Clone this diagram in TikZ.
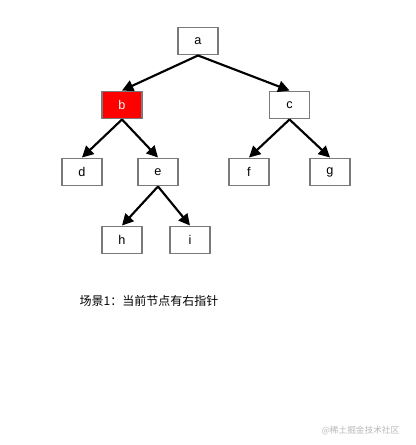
\documentclass[tikz,border=0pt]{standalone}
\usepackage{fontspec}
\setmainfont{Liberation Sans}
\newfontfamily\cjk{Noto Sans CJK SC}
\usetikzlibrary{arrows.meta}
\definecolor{boxgrey}{HTML}{7A7A7A}
\definecolor{markred}{HTML}{FF0000}
\definecolor{wmgrey}{HTML}{B8B8B8}

\begin{document}
\begin{tikzpicture}[x=0.75pt, y=-0.75pt,
    font=\fontsize{9.5}{11}\selectfont,
    treenode/.style={draw=boxgrey, line width=1.2pt, fill=white,
                     minimum width=30pt, minimum height=20.5pt, inner sep=0pt},
    curnode/.style={treenode, fill=markred, text=white},
    link/.style={black, line width=1.6pt, -{Triangle[length=8.5pt,width=8.5pt]}}]

  \useasboundingbox (0,0) rectangle (416,445);

  % --- the tree
  \node[treenode] (a) at (198,41)  {a};
  \node[curnode]  (b) at (122,105) {b};
  \node[treenode] (c) at (289.5,105) {c};
  \node[treenode] (d) at (82,172)  {d};
  \node[treenode] (e) at (158,172) {e};
  \node[treenode] (f) at (249,172) {f};
  \node[treenode] (g) at (330,172) {g};
  \node[treenode] (h) at (122,240) {h};
  \node[treenode] (i) at (190,240) {i};

  \draw[link] (a.south) -- (b.north);
  \draw[link] (a.south) -- (c.north);
  \draw[link] (b.south) -- (d.north);
  \draw[link] (b.south) -- (e.north);
  \draw[link] (c.south) -- (f.north);
  \draw[link] (c.south) -- (g.north);
  \draw[link] (e.south) -- (h.north);
  \draw[link] (e.south) -- (i.north);

  % --- caption and watermark
  \node[anchor=west, font=\cjk\fontsize{9}{11}\selectfont] (cap) at (75,301)
       {场景1：当前节点有右指针};
  \node[anchor=east, wmgrey, font=\cjk\fontsize{6.5}{8}\selectfont] (wm) at (404,431)
       {@稀土掘金技术社区};
\end{tikzpicture}
\end{document}
